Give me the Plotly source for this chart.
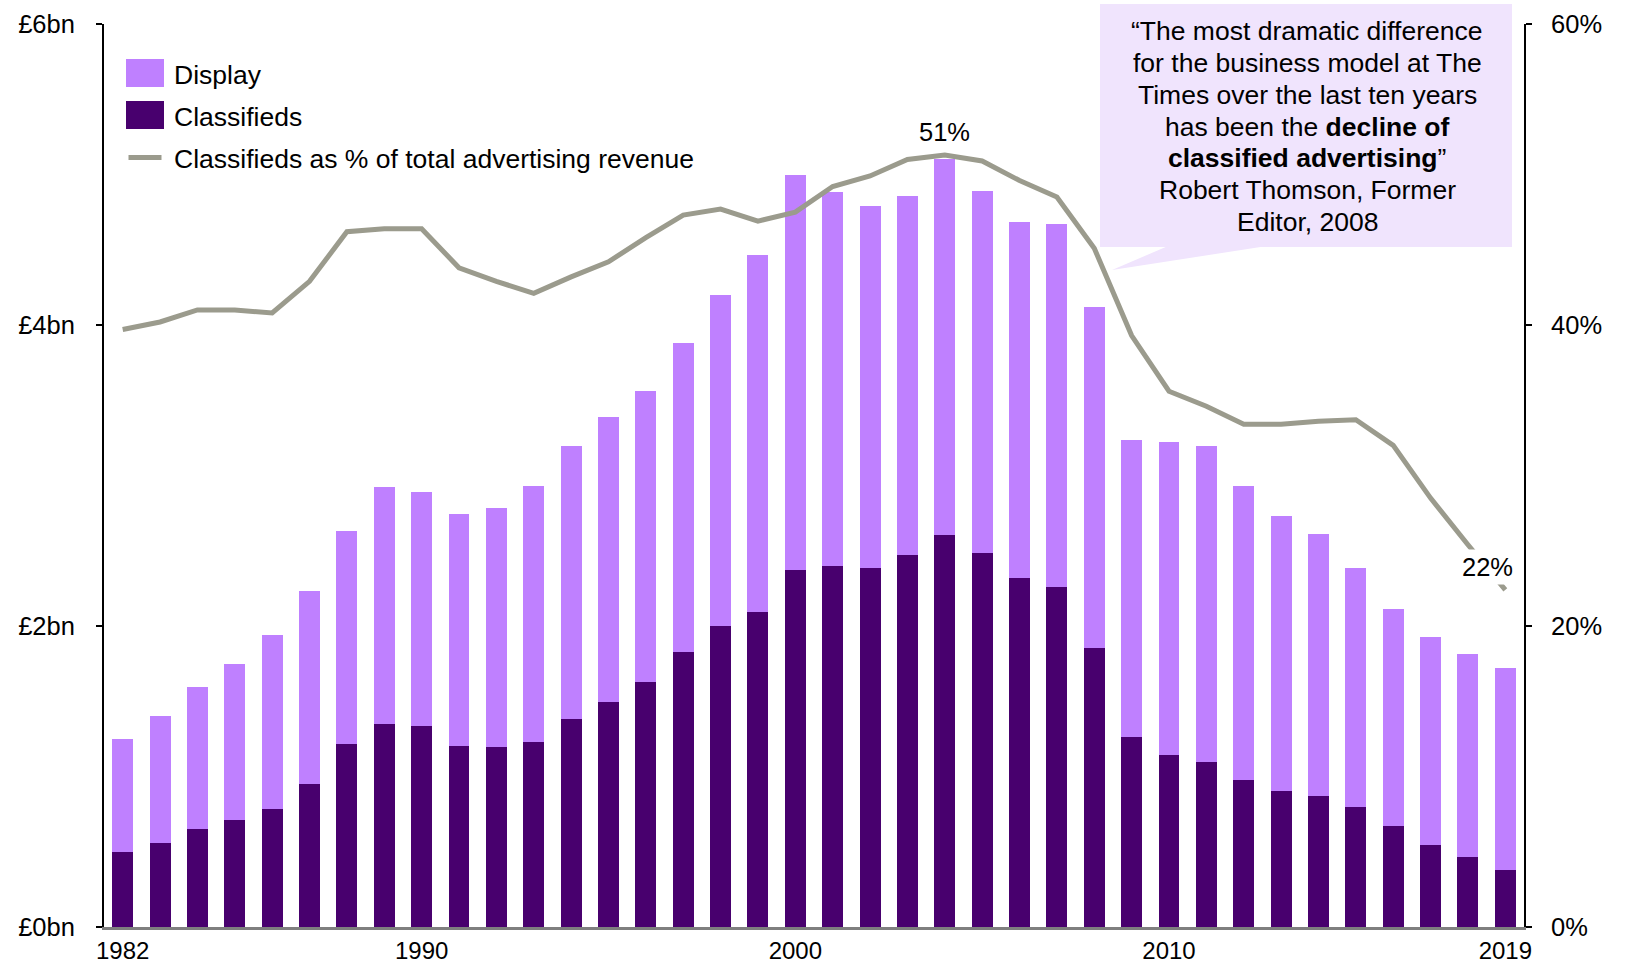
import plotly.graph_objects as go

# UK newspaper advertising revenue, £bn, and classifieds share of the total
years = list(range(1982, 2020))

classifieds_bn = [0.497, 0.559, 0.648, 0.710, 0.786, 0.952, 1.214, 1.352, 1.338, 1.200,
                  1.193, 1.228, 1.379, 1.497, 1.628, 1.828, 2.000, 2.090, 2.372, 2.400,
                  2.386, 2.469, 2.607, 2.483, 2.317, 2.262, 1.855, 1.262, 1.145, 1.097,
                  0.979, 0.903, 0.869, 0.800, 0.669, 0.545, 0.462, 0.379]

display_bn = [0.751, 0.841, 0.945, 1.035, 1.152, 1.282, 1.420, 1.572, 1.552, 1.545,
              1.593, 1.703, 1.814, 1.889, 1.931, 2.055, 2.200, 2.372, 2.628, 2.483,
              2.407, 2.386, 2.496, 2.407, 2.366, 2.407, 2.262, 1.972, 2.076, 2.096,
              1.952, 1.828, 1.745, 1.586, 1.441, 1.379, 1.352, 1.345]

classified_share_pct = [39.7, 40.2, 41.0, 41.0, 40.8, 42.9, 46.2, 46.4, 46.4, 43.8,
                        42.9, 42.1, 43.2, 44.2, 45.8, 47.3, 47.7, 46.9, 47.5, 49.2,
                        49.9, 51.0, 51.3, 50.9, 49.6, 48.5, 45.1, 39.3, 35.6, 34.6,
                        33.4, 33.4, 33.6, 33.7, 32.0, 28.5, 25.4, 22.4]

left_tick_vals = [0, 2, 4, 6]
left_tick_text = ["£0bn", "£2bn", "£4bn", "£6bn"]
right_tick_vals = [0, 20, 40, 60]
right_tick_text = ["0%", "20%", "40%", "60%"]
x_tick_vals = [1982, 1990, 2000, 2010, 2019]

series_names = ["Display", "Classifieds", "Classifieds as % of total advertising revenue"]
quote_lines = [
    "\u201cThe most dramatic difference",
    "for the business model at The",
    "Times over the last ten years",
    "has been the <b>decline of</b>",
    "<b>classified advertising</b>\u201d",
    "Robert Thomson, Former",
    "Editor, 2008",
]

DISPLAY_COL = "#BF80FF"
CLASS_COL = "#48006E"
LINE_COL = "#9B9B8D"
BOX_COL = "#F0E4FD"
FONT = "Liberation Sans, Arial, sans-serif"
TICK_SIZE = 25.5
XTICK_SIZE = 24
TEXT_SIZE = 26.5

W, H = 1629, 964
ML, MR, MT, MB = 104, 105, 24, 37
PW, PH = W - ML - MR, H - MT - MB


def px(x):
    return (x - ML) / PW


def py(y):
    return (H - MB - y) / PH


fig = go.Figure()
fig.add_trace(go.Bar(x=years, y=classifieds_bn, name=series_names[1],
                     marker=dict(color=CLASS_COL, line=dict(width=0)),
                     width=0.56, showlegend=False))
fig.add_trace(go.Bar(x=years, y=display_bn, name=series_names[0],
                     marker=dict(color=DISPLAY_COL, line=dict(width=0)),
                     width=0.56, showlegend=False))
fig.add_trace(go.Scatter(x=years, y=classified_share_pct, name=series_names[2],
                         mode="lines", yaxis="y2",
                         line=dict(color=LINE_COL, width=5),
                         showlegend=False))

shapes = []
annotations = []

# Hand-built legend
shapes.append(dict(type="rect", xref="paper", yref="paper",
                   x0=px(126), x1=px(164), y0=py(59), y1=py(87),
                   fillcolor=DISPLAY_COL, line=dict(width=0)))
shapes.append(dict(type="rect", xref="paper", yref="paper",
                   x0=px(126), x1=px(164), y0=py(101), y1=py(129),
                   fillcolor=CLASS_COL, line=dict(width=0)))
shapes.append(dict(type="line", xref="paper", yref="paper",
                   x0=px(128.5), x1=px(161.5), y0=py(157.5), y1=py(157.5),
                   line=dict(color=LINE_COL, width=5)))
for name, yc in zip(series_names, [75, 117, 159]):
    annotations.append(dict(text=name, xref="paper", yref="paper",
                            x=px(172), y=py(yc), xanchor="left", yanchor="middle",
                            showarrow=False,
                            font=dict(size=TEXT_SIZE, color="#000000", family=FONT)))

# Quote callout box with a pointer towards the line
shapes.append(dict(type="rect", xref="paper", yref="paper",
                   x0=px(1100), x1=px(1512), y0=py(4), y1=py(247),
                   fillcolor=BOX_COL, line=dict(width=0), layer="above"))
tail = (f"M {px(1168)},{py(246)} L {px(1112)},{py(270)} "
        f"L {px(1267)},{py(246)} Z")
shapes.append(dict(type="path", xref="paper", yref="paper", path=tail,
                   fillcolor=BOX_COL, line=dict(width=0), layer="above"))
for k, line in enumerate(quote_lines):
    annotations.append(dict(text=line, xref="paper", yref="paper",
                            x=px(1307), y=py(31 + 31.85 * k),
                            xanchor="center", yanchor="middle",
                            showarrow=False,
                            font=dict(size=TEXT_SIZE, color="#000000", family=FONT)))

# Peak and latest share labels
i_peak = classified_share_pct.index(max(classified_share_pct))
annotations.append(dict(text=f"{round(classified_share_pct[i_peak])}%",
                        x=years[i_peak], y=classified_share_pct[i_peak], xref="x", yref="y2",
                        yshift=23, showarrow=False,
                        font=dict(size=TICK_SIZE, color="#000000", family=FONT)))
annotations.append(dict(text=f"{round(classified_share_pct[-1])}%",
                        x=years[-1], y=classified_share_pct[-1], xref="x", yref="y2",
                        xshift=-18, yshift=23, showarrow=False, bgcolor="#FFFFFF",
                        borderpad=3,
                        font=dict(size=TICK_SIZE, color="#000000", family=FONT)))

tickfont = dict(size=TICK_SIZE, family=FONT, color="#000000")
fig.update_layout(
    width=W, height=H,
    margin=dict(l=ML, r=MR, t=MT, b=MB, pad=0, autoexpand=False),
    paper_bgcolor="#FFFFFF", plot_bgcolor="#FFFFFF",
    barmode="stack", bargap=0.44,
    font=dict(family=FONT, size=TICK_SIZE, color="#000000"),
    showlegend=False,
    shapes=shapes, annotations=annotations,
    xaxis=dict(range=[1981.5, 2019.5], tickvals=x_tick_vals,
               ticktext=[str(v) for v in x_tick_vals], ticks="",
               showgrid=False, zeroline=False, showline=True,
               linecolor="#7F7F7F", linewidth=2.5, automargin=False,
               ticklabelstandoff=0,
               tickfont=dict(size=XTICK_SIZE, family=FONT, color="#000000")),
    yaxis=dict(range=[0, 6], tickvals=left_tick_vals, ticktext=left_tick_text,
               ticks="outside", ticklen=6, tickwidth=2, tickcolor="#000000",
               showgrid=False, zeroline=False, showline=True, automargin=False,
               linecolor="#000000", linewidth=2, ticklabelstandoff=16,
               tickfont=tickfont),
    yaxis2=dict(range=[0, 60], tickvals=right_tick_vals, ticktext=right_tick_text,
                overlaying="y", side="right", automargin=False,
                ticks="outside", ticklen=6, tickwidth=2, tickcolor="#000000",
                showgrid=False, zeroline=False, showline=True,
                linecolor="#000000", linewidth=2, ticklabelstandoff=14,
                tickfont=tickfont),
)

fig.write_html("out.html")
